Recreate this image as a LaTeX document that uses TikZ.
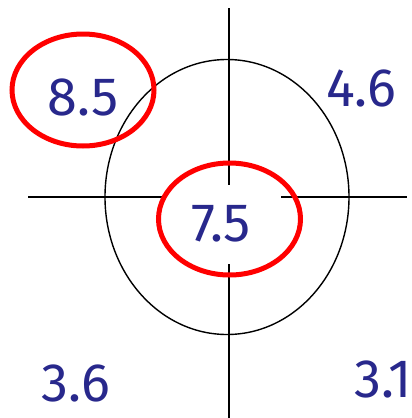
\documentclass[tikz,border=0pt]{standalone}
\usepackage{fontspec}
\setmainfont{Fira Sans}
\definecolor{numblue}{RGB}{40,40,140}
\tikzset{
  num/.style={text=numblue, inner sep=0pt, font=\fontsize{54}{60}\selectfont},
  ring/.style={red, line width=5pt},
}
\begin{document}
\begin{tikzpicture}[x=1pt, y=-1pt]
    \useasboundingbox (0,0) rectangle (412,418);

    \draw[line width=1.6pt] (229,8) -- (229,418);
    \draw[line width=1.6pt] (28,197) -- (407,197);
    \draw[line width=1.4pt] (227,197) ellipse [x radius=122, y radius=137.5];

    \node[num, fill=white, minimum width=119pt, minimum height=79pt] (mid) at (221,224) {7.5};
    \node[num] (tl) at (83,97) {8.5};
    \node[num] (tr) at (361,88) {4.6};
    \node[num] (bl) at (76,383) {3.6};
    \node[num, anchor=west] (br) at (354,379) {3.1};

    \draw[ring] (83,90) ellipse [x radius=71, y radius=56];
    \draw[ring] (229.5,219) ellipse [x radius=71, y radius=56];
\end{tikzpicture}
\end{document}
